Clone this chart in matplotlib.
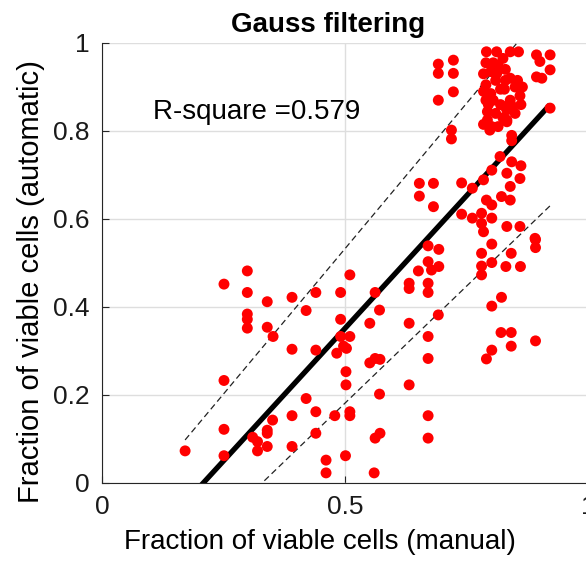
import numpy as np
import matplotlib
matplotlib.use("Agg")
import matplotlib.pyplot as plt

plt.rcParams['font.family'] = ['Liberation Sans', 'DejaVu Sans']

# ================= DATA =================
# manual (x) vs automatic (y) fraction of viable cells
manual = [
    0.299, 0.251, 0.299, 0.340, 0.391, 0.440, 0.491, 0.510, 0.420, 0.299,
    0.299, 0.299, 0.340, 0.352, 0.391, 0.440, 0.491, 0.491, 0.510, 0.497,
    0.483, 0.503, 0.502, 0.502, 0.251, 0.420, 0.440, 0.391, 0.351, 0.340,
    0.340, 0.310, 0.320, 0.320, 0.340, 0.391, 0.440, 0.479, 0.510, 0.510,
    0.251, 0.251, 0.171, 0.461, 0.461, 0.501,
    0.671, 0.693, 0.671, 0.693, 0.651, 0.678, 0.671, 0.671, 0.632, 0.632,
    0.562, 0.571, 0.551, 0.632, 0.692, 0.671, 0.671, 0.551, 0.562, 0.572,
    0.632, 0.571, 0.671, 0.671, 0.562, 0.572, 0.560,
    0.802, 0.781, 0.802, 0.781, 0.781, 0.842, 0.831, 0.861, 0.892, 0.892,
    0.822, 0.802, 0.821, 0.842, 0.842, 0.802, 0.791, 0.892,
    0.692, 0.723, 0.692, 0.723, 0.723, 0.692, 0.719, 0.719, 0.653, 0.682,
    0.653, 0.682,
    0.791, 0.812, 0.840, 0.857, 0.894, 0.922, 0.901, 0.922, 0.894, 0.905,
    0.790, 0.800, 0.815, 0.830, 0.810, 0.790, 0.800, 0.820, 0.840, 0.850,
    0.860, 0.840, 0.862, 0.830, 0.795, 0.810, 0.793, 0.833, 0.793, 0.833,
    0.798, 0.843, 0.843, 0.802, 0.833,
    0.785, 0.785, 0.790, 0.805, 0.825, 0.805, 0.820, 0.825, 0.815, 0.850,
    0.845, 0.855, 0.830, 0.865, 0.785, 0.812, 0.828,
    0.819, 0.843, 0.862, 0.802, 0.833, 0.860, 0.785, 0.740, 0.762, 0.840,
    0.822, 0.840, 0.791, 0.802, 0.740, 0.762, 0.781, 0.802, 0.781, 0.785,
    0.833, 0.860, 0.891, 0.922,
]
automatic = [
    0.482, 0.452, 0.433, 0.412, 0.422, 0.433, 0.433, 0.473, 0.392, 0.384,
    0.372, 0.352, 0.354, 0.333, 0.304, 0.302, 0.372, 0.333, 0.333, 0.311,
    0.295, 0.306, 0.253, 0.223, 0.233, 0.192, 0.162, 0.153, 0.143, 0.120,
    0.113, 0.104, 0.094, 0.073, 0.083, 0.083, 0.113, 0.153, 0.162, 0.153,
    0.122, 0.062, 0.073, 0.052, 0.023, 0.062,
    0.539, 0.531, 0.503, 0.492, 0.482, 0.484, 0.454, 0.433, 0.454, 0.442,
    0.433, 0.393, 0.363, 0.363, 0.382, 0.333, 0.283, 0.273, 0.283, 0.281,
    0.223, 0.202, 0.153, 0.102, 0.102, 0.113, 0.023,
    0.543, 0.522, 0.501, 0.493, 0.473, 0.522, 0.492, 0.492, 0.553, 0.535,
    0.422, 0.402, 0.342, 0.342, 0.311, 0.302, 0.282, 0.323,
    0.952, 0.961, 0.931, 0.931, 0.889, 0.870, 0.802, 0.782, 0.681, 0.681,
    0.652, 0.628,
    0.980, 0.980, 0.980, 0.980, 0.973, 0.973, 0.958, 0.939, 0.923, 0.920,
    0.955, 0.935, 0.950, 0.940, 0.915, 0.905, 0.885, 0.895, 0.920, 0.900,
    0.880, 0.870, 0.860, 0.855, 0.860, 0.840, 0.844, 0.848, 0.825, 0.825,
    0.802, 0.790, 0.778, 0.810, 0.821,
    0.930, 0.890, 0.870, 0.955, 0.965, 0.870, 0.860, 0.830, 0.810, 0.840,
    0.855, 0.915, 0.915, 0.900, 0.815, 0.930, 0.895,
    0.742, 0.730, 0.721, 0.711, 0.704, 0.692, 0.689, 0.682, 0.670, 0.674,
    0.651, 0.643, 0.643, 0.632, 0.611, 0.602, 0.613, 0.602, 0.590, 0.571,
    0.583, 0.583, 0.556, 0.852,
]

# linear fit y = p1*x + p2 and its coefficient bounds
fit_p1, fit_p2 = 1.205, -0.251
upper_p1, upper_p2 = 1.321, -0.128
lower_p1, lower_p2 = 1.063, -0.350
r_square = 0.579

x = np.array(manual)
y = np.array(automatic)

# ================= PLOT =================
fig = plt.figure(figsize=(5.86, 5.62), dpi=100)
ax = fig.add_axes([102 / 586, 1 - 483 / 562, 486 / 586, 440 / 562])

xs = np.array([x.min(), x.max()])
ax.plot(xs, fit_p1 * xs + fit_p2, color="black", lw=3.8, solid_capstyle="butt", zorder=2)
ax.plot(xs, upper_p1 * xs + upper_p2, color="#222222", lw=0.9, dashes=(5, 3), zorder=2)
ax.plot(xs, lower_p1 * xs + lower_p2, color="#222222", lw=0.9, dashes=(5, 3), zorder=2)
ax.scatter(x, y, s=62, color="red", edgecolors="none", zorder=3)

ax.text(0.105, 0.827, f"R-square ={r_square}", fontsize=20, color="black", va="baseline")

ax.set_xlim(0, 1)
ax.set_ylim(0, 1)
ax.set_xticks([0, 0.5, 1])
ax.set_xticklabels(["0", "0.5", "1"])
ax.set_yticks([0, 0.2, 0.4, 0.6, 0.8, 1])
ax.set_yticklabels(["0", "0.2", "0.4", "0.6", "0.8", "1"])
ax.tick_params(direction="in", length=5, width=0.8, colors="#262626",
               labelcolor="#1a1a1a", labelsize=19)
ax.tick_params(axis="x", pad=9)
ax.tick_params(axis="y", pad=9)

ax.grid(True, color="#dedede", lw=1.0)
ax.set_axisbelow(True)
for side in ["top", "right"]:
    ax.spines[side].set_visible(False)
for side in ["left", "bottom"]:
    ax.spines[side].set_color("#262626")
    ax.spines[side].set_linewidth(0.8)

ax.set_title("Gauss filtering", fontsize=20, fontweight="bold", x=0.465, pad=8)
ax.set_xlabel("Fraction of viable cells (manual)", fontsize=20)
ax.xaxis.set_label_coords(0.449, -0.105)
ax.set_ylabel("Fraction of viable cells (automatic)", fontsize=21)
ax.yaxis.set_label_coords(-0.117, 0.457)

fig.savefig("out.png", dpi=100)
